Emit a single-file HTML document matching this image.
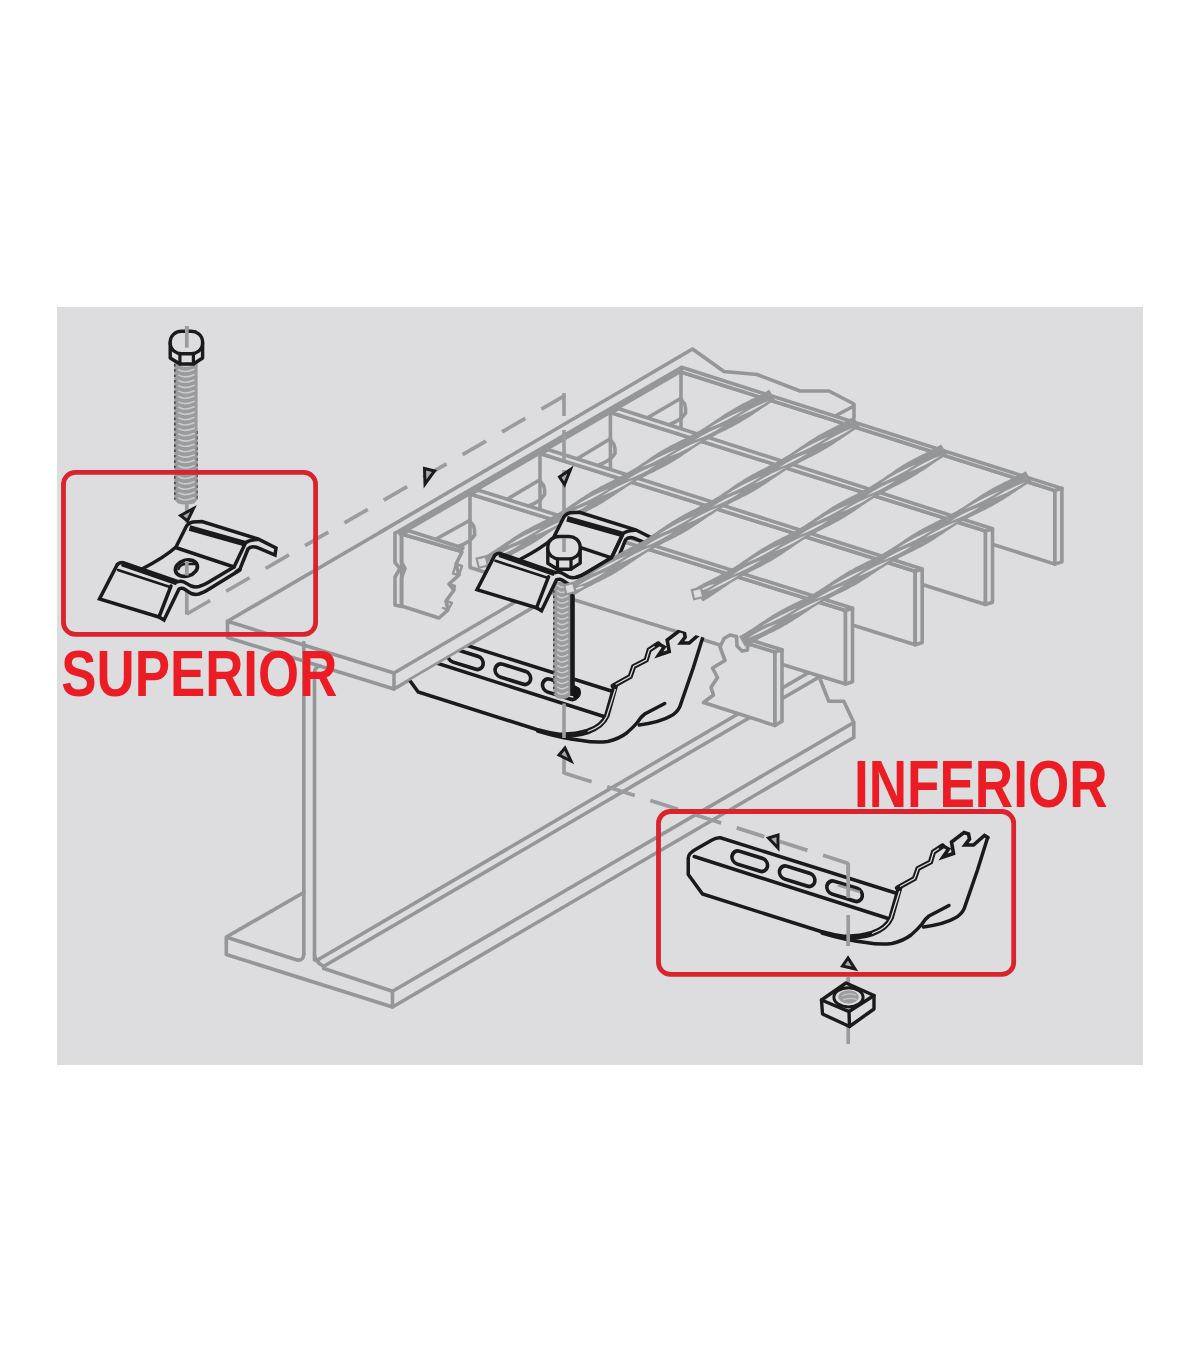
<!DOCTYPE html>
<html lang="es">
<head>
<meta charset="utf-8">
<title>Clip superior e inferior</title>
<style>
html,body{margin:0;padding:0;background:#fff;}
body{width:1200px;height:1372px;overflow:hidden;position:relative;font-family:"Liberation Sans",sans-serif;}
svg{position:absolute;left:0;top:0;display:block;}
.g{fill:none;stroke:#959698;stroke-width:3.6;stroke-linejoin:round;stroke-linecap:round;}
.g2{fill:none;stroke:#9d9ea0;stroke-width:2.2;stroke-linejoin:round;stroke-linecap:round;}
.gl{fill:none;stroke:#a9aaac;stroke-width:1.5;stroke-linejoin:round;stroke-linecap:butt;}
.k{fill:none;stroke:#1a1a1a;stroke-width:3.5;stroke-linejoin:miter;stroke-linecap:round;}
.k3{fill:none;stroke:#141414;stroke-width:3;stroke-linejoin:round;stroke-linecap:round;}
.k4{fill:none;stroke:#1a1a1a;stroke-width:5.6;stroke-linejoin:round;stroke-linecap:butt;}
.kf{fill:#dddde0;stroke:#1a1a1a;stroke-width:3.5;stroke-linejoin:round;stroke-linecap:round;}
.r{fill:none;stroke:#da232d;stroke-width:4.8;}
.t{font-family:"Liberation Sans",sans-serif;font-weight:bold;font-size:65.5px;fill:#ec1c24;}
</style>
</head>
<body>
<svg width="1200" height="1372" viewBox="0 0 1200 1372">
<rect x="0" y="0" width="1200" height="1372" fill="#ffffff"/>
<rect x="57" y="307" width="1086" height="758" fill="#dddde0"/>
<polyline class="g" points="530,593.3 394,673 227.5,621.3 227.5,637.5 394,689 394,673" />
<polyline class="g" points="394,689 546,599.8" />
<polyline class="g" points="227.5,621.3 385,529.5" />
<polyline class="g" points="303.8,642.5 303.8,954.5" />
<path class="g" d="M314.5,960 L314.5,672 Q315,667 320,666" />
<polyline class="g" points="303.8,892.5 226.3,937 226.3,954.5 392.5,1007 392.5,991.3 323.8,968.5" />
<path class="g" d="M229,938 L297,960 Q303.5,961 303.8,954" />
<path class="g" d="M314.5,955 Q315,962 323.8,966.3" />
<polyline class="g" points="317.5,960 814,669.5" />
<polyline class="g" points="323.8,966.3 826,673" />
<polyline class="g" points="392.5,991.3 853.8,722.5 853.8,737.5 392.5,1007" />
<polyline class="g" points="853.8,722.5 843.8,701.3 828.8,701.3 820,678.8" />
<polyline points="380.0,532.4 692.5,349.0 724.0,371.5 757.0,374.5 800.0,391.0 829.0,391.0 854.0,404.0 854.0,418.0" fill="none" stroke="#959698" stroke-width="3.6" stroke-linejoin="round" stroke-linecap="round" />
<polyline points="836.0,415.5 853.0,406.5" fill="none" stroke="#959698" stroke-width="3.6" stroke-linejoin="round" stroke-linecap="round" />
<polygon points="681.0,372.0 1054.9,490.6 1054.9,564.1 681.0,445.5" fill="#dddde0" stroke="#959698" stroke-width="3.6" stroke-linejoin="round" />
<polygon points="681.0,372.0 1054.9,490.6 1061.9,488.4 681.6,367.3" fill="#dddde0" stroke="#959698" stroke-width="3.6" stroke-linejoin="round" />
<polygon points="1054.9,490.6 1061.9,488.4 1061.9,561.9 1054.9,564.1" fill="#dddde0" stroke="#959698" stroke-width="3.6" stroke-linejoin="round" />
<polygon points="610.4,412.5 985.5,531.0 985.5,604.5 610.4,486.0" fill="#dddde0" stroke="#959698" stroke-width="3.6" stroke-linejoin="round" />
<polygon points="610.4,412.5 985.5,531.0 992.5,528.8 618.9,408.7" fill="#dddde0" stroke="#959698" stroke-width="3.6" stroke-linejoin="round" />
<polygon points="985.5,531.0 992.5,528.8 992.5,602.3 985.5,604.5" fill="#dddde0" stroke="#959698" stroke-width="3.6" stroke-linejoin="round" />
<polygon points="540.0,453.5 915.2,571.2 915.2,644.8 540.0,527.0" fill="#dddde0" stroke="#959698" stroke-width="3.6" stroke-linejoin="round" />
<polygon points="540.0,453.5 915.2,571.2 922.2,569.0 548.5,449.7" fill="#dddde0" stroke="#959698" stroke-width="3.6" stroke-linejoin="round" />
<polygon points="915.2,571.2 922.2,569.0 922.2,642.5 915.2,644.8" fill="#dddde0" stroke="#959698" stroke-width="3.6" stroke-linejoin="round" />
<polygon points="470.0,494.0 845.5,610.5 845.5,684.0 470.0,567.5" fill="#dddde0" stroke="#959698" stroke-width="3.6" stroke-linejoin="round" />
<polygon points="470.0,494.0 845.5,610.5 852.5,608.3 478.5,490.2" fill="#dddde0" stroke="#959698" stroke-width="3.6" stroke-linejoin="round" />
<polygon points="845.5,610.5 852.5,608.3 852.5,681.8 845.5,684.0" fill="#dddde0" stroke="#959698" stroke-width="3.6" stroke-linejoin="round" />
<polygon points="401.6,534.0 460.0,551.0 462.0,552.0 456.0,564.0 459.0,575.0 449.0,584.0 454.0,590.0 446.0,601.0 448.0,610.0 439.0,618.0 401.6,606.0" fill="#dddde0" stroke="#959698" stroke-width="3.6" stroke-linejoin="round" />
<polygon points="401.6,534.0 460.0,551.0 463.0,548.0 408.6,530.8" fill="#dddde0" stroke="#959698" stroke-width="3.6" stroke-linejoin="round" />
<polyline points="395.0,533.0 395.0,562.5 400.0,568.5 395.0,577.0 395.0,605.0 401.5,606.5" fill="none" stroke="#959698" stroke-width="3.6" stroke-linejoin="round" stroke-linecap="round" />
<polyline points="401.5,534.0 401.5,562.5 405.0,568.5 401.5,578.0 401.5,606.0" fill="none" stroke="#959698" stroke-width="3.6" stroke-linejoin="round" stroke-linecap="round" />
<polyline points="456.0,564.0 462.0,566.0 459.0,575.0 453.0,573.5 456.0,564.0" fill="none" stroke="#959698" stroke-width="2.4" stroke-linejoin="round" stroke-linecap="round" />
<polyline points="449.0,584.0 455.0,586.0 454.0,590.0" fill="none" stroke="#959698" stroke-width="2.4" stroke-linejoin="round" stroke-linecap="round" />
<polyline points="446.0,601.0 452.0,603.0 448.0,610.0 443.0,608.0" fill="none" stroke="#959698" stroke-width="2.4" stroke-linejoin="round" stroke-linecap="round" />
<polygon points="730.0,635.0 736.5,636.5 737.0,646.0 742.0,651.0 747.5,650.0 748.0,643.5 775.0,652.0 775.0,725.5 703.5,702.5 713.5,695.0 711.0,687.5 717.5,677.5 712.5,668.0 725.0,660.5 720.0,647.0 724.0,638.5" fill="#dddde0" stroke="#959698" stroke-width="3.6" stroke-linejoin="round" />
<polygon points="746.3,643.3 775.0,652.0 782.0,649.8 753.0,640.8" fill="#dddde0" stroke="#959698" stroke-width="3.6" stroke-linejoin="round" />
<polygon points="775.0,652.0 782.0,649.8 782.0,721.3 775.0,725.5" fill="#dddde0" stroke="#959698" stroke-width="3.6" stroke-linejoin="round" />
<polyline points="395.5,533.0 681.3,367.6" fill="none" stroke="#959698" stroke-width="3.6" stroke-linejoin="round" stroke-linecap="round" />
<polyline points="400.0,534.0 681.3,371.0" fill="none" stroke="#959698" stroke-width="3.6" stroke-linejoin="round" stroke-linecap="round" />
<polyline points="647.9,417.5 680.5,398.5" fill="none" stroke="#959698" stroke-width="3.6" stroke-linejoin="round" stroke-linecap="round" />
<path fill="none" stroke="#959698" stroke-width="3.6" stroke-linejoin="round" stroke-linecap="round" d="M680.5,398.5 L684.6,404.0 Q686.0,408.0 685.6,413.0 L681.0,418.5 Q675.0,422.5 669.5,424.5"/>
<polyline points="577.5,458.5 609.9,439.0" fill="none" stroke="#959698" stroke-width="3.6" stroke-linejoin="round" stroke-linecap="round" />
<path fill="none" stroke="#959698" stroke-width="3.6" stroke-linejoin="round" stroke-linecap="round" d="M609.9,439.0 L614.0,444.5 Q615.4,448.5 615.0,453.5 L610.4,459.0 Q604.4,463.0 598.9,465.0"/>
<polyline points="507.5,499.0 539.5,480.0" fill="none" stroke="#959698" stroke-width="3.6" stroke-linejoin="round" stroke-linecap="round" />
<path fill="none" stroke="#959698" stroke-width="3.6" stroke-linejoin="round" stroke-linecap="round" d="M539.5,480.0 L543.6,485.5 Q545.0,489.5 544.6,494.5 L540.0,500.0 Q534.0,504.0 528.5,506.0"/>
<polyline points="436.1,539.0 469.5,520.5" fill="none" stroke="#959698" stroke-width="3.6" stroke-linejoin="round" stroke-linecap="round" />
<path fill="none" stroke="#959698" stroke-width="3.6" stroke-linejoin="round" stroke-linecap="round" d="M469.5,520.5 L473.6,526.0 Q475.0,530.0 474.6,535.0 L470.0,540.5 Q464.0,544.5 458.5,546.5"/>
<polygon points="486.6,568.8 489.1,567.2 491.6,565.6 494.2,564.1 496.8,562.6 499.4,561.2 502.1,559.8 504.7,558.4 507.4,557.0 510.1,555.7 512.7,554.4 515.4,553.0 518.1,551.7 520.8,550.3 523.4,548.9 526.0,547.5 528.6,546.1 531.2,544.6 533.8,543.0 536.3,541.4 538.8,539.8 541.3,538.2 543.8,536.5 546.3,534.8 548.7,533.1 551.2,531.5 553.7,529.8 556.2,528.2 558.7,526.6 561.3,525.0 563.8,523.4 566.4,522.0 569.0,520.5 571.6,519.1 574.3,517.7 577.0,516.3 579.6,515.0 582.3,513.7 585.0,512.4 587.7,511.0 590.3,509.7 593.0,508.3 595.6,506.9 598.2,505.4 600.8,503.9 603.4,502.4 605.9,500.8 608.4,499.2 610.9,497.6 613.4,495.9 615.9,494.2 618.4,492.6 620.8,490.9 623.3,489.2 625.8,487.6 628.3,485.9 630.9,484.4 633.4,482.8 636.0,481.3 638.6,479.8 641.2,478.4 643.9,477.0 646.5,475.7 649.2,474.3 651.9,473.0 654.6,471.7 657.2,470.3 659.9,469.0 662.6,467.6 665.2,466.2 667.8,464.8 670.4,463.3 673.0,461.8 675.5,460.2 678.1,458.6 680.6,457.0 683.0,455.3 685.5,453.6 688.0,452.0 690.5,450.3 693.0,448.6 695.4,447.0 698.0,445.3 700.5,443.7 703.0,442.2 705.6,440.7 708.2,439.2 710.8,437.8 713.5,436.4 716.1,435.0 718.8,433.6 721.5,432.3 724.1,431.0 726.8,429.7 729.5,428.3 732.2,427.0 734.8,425.6 737.4,424.1 740.0,422.7 742.6,421.1 745.1,419.6 747.7,418.0 750.2,416.4 752.7,414.7 755.2,413.1 757.6,411.4 760.1,409.7 762.6,408.0 765.1,406.4 767.6,404.7 770.1,403.1 772.6,401.6 775.2,400.0 769.3,389.8 766.7,391.3 764.1,392.8 761.4,394.2 758.8,395.6 756.1,396.9 753.4,398.2 750.7,399.6 748.1,400.9 745.4,402.2 742.7,403.6 740.1,405.0 737.4,406.4 734.8,407.9 732.3,409.4 729.7,410.9 727.2,412.5 724.7,414.1 722.2,415.7 719.7,417.4 717.2,419.1 714.7,420.8 712.2,422.4 709.8,424.1 707.3,425.8 704.7,427.4 702.2,428.9 699.7,430.5 697.1,432.0 694.5,433.4 691.8,434.8 689.2,436.2 686.5,437.6 683.8,438.9 681.2,440.3 678.5,441.6 675.8,442.9 673.1,444.3 670.5,445.6 667.9,447.1 665.2,448.5 662.7,450.0 660.1,451.5 657.5,453.1 655.0,454.7 652.5,456.3 650.0,458.0 647.6,459.7 645.1,461.4 642.6,463.0 640.1,464.7 637.6,466.4 635.1,468.0 632.6,469.6 630.0,471.1 627.5,472.6 624.9,474.1 622.2,475.5 619.6,476.9 616.9,478.3 614.3,479.6 611.6,480.9 608.9,482.3 606.2,483.6 603.6,484.9 600.9,486.3 598.3,487.7 595.6,489.2 593.0,490.6 590.5,492.1 587.9,493.7 585.4,495.3 582.9,496.9 580.4,498.6 577.9,500.3 575.5,501.9 573.0,503.6 570.5,505.3 568.0,507.0 565.5,508.6 563.0,510.2 560.4,511.7 557.9,513.3 555.3,514.7 552.7,516.2 550.0,517.6 547.4,518.9 544.7,520.3 542.0,521.6 539.3,522.9 536.6,524.3 534.0,525.6 531.3,527.0 528.7,528.4 526.0,529.8 523.4,531.3 520.9,532.8 518.3,534.3 515.8,535.9 513.3,537.5 510.8,539.2 508.3,540.9 505.8,542.5 503.4,544.2 500.9,545.9 498.4,547.6 495.9,549.2 493.4,550.8 490.8,552.4 488.3,553.9 485.7,555.4 483.1,556.8 480.4,558.2" fill="#959698" stroke="none"/><path fill="#dddde0" stroke="none" d="M736.7,417.3 Q753.8,410.9 768.8,400.9 Q751.7,407.3 736.7,417.3 Z M708.3,428.3 Q727.2,420.9 743.9,409.9 Q725.1,417.3 708.3,428.3 Z M694.5,440.3 Q709.9,434.9 723.2,425.9 Q707.8,431.3 694.5,440.3 Z M669.3,456.6 Q686.4,450.3 701.4,440.2 Q684.3,446.6 669.3,456.6 Z M641.0,467.6 Q659.8,460.2 676.5,449.2 Q657.7,456.6 641.0,467.6 Z M627.1,479.6 Q642.5,474.2 655.8,465.2 Q640.4,470.6 627.1,479.6 Z M601.9,496.0 Q619.1,489.6 634.0,479.6 Q616.9,485.9 601.9,496.0 Z M573.6,507.0 Q592.5,499.5 609.2,488.5 Q590.3,495.9 573.6,507.0 Z M559.8,519.0 Q575.2,513.6 588.4,504.6 Q573.0,509.9 559.8,519.0 Z M534.6,535.3 Q551.7,528.9 566.7,518.9 Q549.6,525.3 534.6,535.3 Z M506.3,546.3 Q525.1,538.9 541.8,527.8 Q523.0,535.2 506.3,546.3 Z M492.4,558.3 Q507.8,552.9 521.1,543.9 Q505.7,549.3 492.4,558.3 Z M486.8,563.2 Q494.1,562.5 499.3,558.2 Q492.0,558.9 486.8,563.2 Z "/><rect x="478.0" y="557.1" width="9.4" height="9.4" fill="#dddde0" stroke="#959698" stroke-width="2.2" transform="rotate(-14 483.5 563.5)"/>
<polygon points="574.0,595.2 576.6,593.6 579.1,592.1 581.7,590.6 584.3,589.1 587.0,587.7 589.6,586.3 592.3,584.9 595.0,583.6 597.6,582.2 600.3,580.9 603.0,579.6 605.6,578.2 608.3,576.8 610.9,575.4 613.5,573.9 616.1,572.4 618.6,570.8 621.2,569.2 623.7,567.6 626.2,566.0 628.7,564.3 631.1,562.6 633.6,560.9 636.1,559.2 638.6,557.5 641.0,555.9 643.6,554.3 646.1,552.7 648.6,551.1 651.2,549.6 653.8,548.2 656.5,546.7 659.1,545.3 661.8,544.0 664.4,542.6 667.1,541.3 669.8,539.9 672.5,538.6 675.1,537.2 677.8,535.8 680.4,534.4 683.0,533.0 685.6,531.5 688.2,529.9 690.7,528.3 693.2,526.7 695.7,525.1 698.2,523.4 700.7,521.7 703.1,520.0 705.6,518.3 708.1,516.6 710.6,515.0 713.1,513.4 715.6,511.8 718.2,510.2 720.7,508.7 723.3,507.2 725.9,505.8 728.6,504.4 731.2,503.0 733.9,501.6 736.6,500.3 739.3,499.0 741.9,497.6 744.6,496.3 747.3,494.9 749.9,493.5 752.5,492.0 755.1,490.5 757.7,489.0 760.2,487.4 762.7,485.8 765.2,484.2 767.7,482.5 770.2,480.8 772.7,479.1 775.1,477.4 777.6,475.8 780.1,474.1 782.6,472.5 785.1,470.8 787.7,469.3 790.2,467.8 792.8,466.3 795.4,464.8 798.1,463.4 800.7,462.0 803.4,460.7 806.1,459.3 808.7,458.0 811.4,456.7 814.1,455.3 816.7,453.9 819.4,452.5 822.0,451.1 824.6,449.6 827.2,448.1 829.7,446.5 832.2,444.9 834.7,443.3 837.2,441.6 839.7,439.9 842.2,438.2 844.7,436.6 847.1,434.9 849.6,433.2 852.1,431.6 854.6,429.9 857.2,428.4 859.7,426.8 853.7,416.7 851.2,418.2 848.5,419.6 845.9,421.0 843.3,422.4 840.6,423.8 837.9,425.1 835.2,426.5 832.6,427.8 829.9,429.2 827.2,430.5 824.6,431.9 822.0,433.4 819.4,434.8 816.8,436.3 814.2,437.9 811.7,439.5 809.2,441.1 806.7,442.8 804.2,444.4 801.8,446.1 799.3,447.8 796.8,449.5 794.3,451.2 791.8,452.8 789.3,454.5 786.8,456.0 784.2,457.6 781.7,459.1 779.1,460.6 776.4,462.0 773.8,463.4 771.1,464.7 768.4,466.1 765.8,467.4 763.1,468.8 760.4,470.1 757.8,471.5 755.1,472.9 752.5,474.3 749.9,475.8 747.3,477.3 744.7,478.8 742.2,480.4 739.7,482.0 737.2,483.6 734.7,485.3 732.2,487.0 729.8,488.7 727.3,490.4 724.8,492.1 722.3,493.7 719.8,495.4 717.3,497.0 714.7,498.5 712.2,500.0 709.6,501.5 706.9,502.9 704.3,504.3 701.6,505.7 699.0,507.1 696.3,508.4 693.6,509.7 690.9,511.1 688.3,512.4 685.6,513.8 683.0,515.2 680.4,516.7 677.8,518.2 675.2,519.7 672.7,521.3 670.2,522.9 667.7,524.5 665.2,526.2 662.7,527.9 660.2,529.6 657.8,531.3 655.3,533.0 652.8,534.6 650.3,536.3 647.8,537.9 645.2,539.4 642.7,541.0 640.1,542.4 637.4,543.9 634.8,545.3 632.2,546.7 629.5,548.0 626.8,549.4 624.1,550.7 621.5,552.1 618.8,553.4 616.1,554.8 613.5,556.2 610.9,557.6 608.3,559.1 605.7,560.6 603.2,562.2 600.6,563.8 598.1,565.4 595.6,567.1 593.2,568.8 590.7,570.5 588.2,572.2 585.8,573.8 583.3,575.5 580.8,577.2 578.3,578.8 575.7,580.3 573.2,581.9 570.6,583.4 568.0,584.8" fill="#959698" stroke="none"/><path fill="#dddde0" stroke="none" d="M821.3,444.3 Q838.3,437.8 853.3,427.7 Q836.2,434.2 821.3,444.3 Z M793.0,455.3 Q811.8,447.9 828.4,436.8 Q809.6,444.3 793.0,455.3 Z M779.2,467.4 Q794.5,462.0 807.8,452.9 Q792.4,458.3 779.2,467.4 Z M754.0,483.8 Q771.1,477.4 786.1,467.3 Q769.0,473.8 754.0,483.8 Z M725.8,494.9 Q744.6,487.4 761.2,476.4 Q742.4,483.8 725.8,494.9 Z M712.0,507.0 Q727.3,501.5 740.6,492.5 Q725.2,497.9 712.0,507.0 Z M686.8,523.4 Q703.9,517.0 718.9,506.9 Q701.8,513.3 686.8,523.4 Z M658.5,534.5 Q677.3,527.0 694.0,515.9 Q675.2,523.4 658.5,534.5 Z M644.8,546.6 Q660.1,541.1 673.3,532.1 Q658.0,537.5 644.8,546.6 Z M619.6,563.0 Q636.7,556.5 651.7,546.5 Q634.6,552.9 619.6,563.0 Z M591.3,574.1 Q610.1,566.6 626.8,555.5 Q608.0,563.0 591.3,574.1 Z M577.5,586.1 Q592.9,580.7 606.1,571.6 Q590.8,577.1 577.5,586.1 Z M574.3,589.7 Q580.4,589.7 584.4,586.0 Q578.3,586.0 574.3,589.7 Z "/><rect x="565.5" y="583.6" width="9.4" height="9.4" fill="#dddde0" stroke="#959698" stroke-width="2.2" transform="rotate(-14 571.0 590.0)"/>
<polygon points="702.6,601.6 705.2,600.1 707.7,598.5 710.2,596.9 712.7,595.3 715.2,593.6 717.6,591.9 720.1,590.2 722.5,588.6 725.0,586.9 727.5,585.2 729.9,583.6 732.4,582.0 735.0,580.4 737.5,578.9 740.1,577.4 742.7,575.9 745.3,574.5 747.9,573.1 750.6,571.8 753.2,570.4 755.9,569.1 758.6,567.7 761.2,566.4 763.9,565.0 766.5,563.6 769.1,562.2 771.7,560.7 774.2,559.2 776.8,557.6 779.3,556.0 781.8,554.4 784.2,552.8 786.7,551.1 789.2,549.4 791.6,547.7 794.1,546.0 796.5,544.3 799.0,542.7 801.5,541.1 804.0,539.5 806.6,537.9 809.1,536.4 811.7,535.0 814.3,533.5 817.0,532.1 819.6,530.8 822.3,529.4 824.9,528.1 827.6,526.7 830.2,525.4 832.9,524.0 835.5,522.6 838.1,521.2 840.7,519.8 843.3,518.3 845.8,516.7 848.4,515.1 850.9,513.5 853.3,511.9 855.8,510.2 858.3,508.5 860.7,506.8 863.2,505.1 865.6,503.5 868.1,501.8 870.6,500.2 873.1,498.6 875.6,497.0 878.2,495.5 880.8,494.0 883.4,492.6 886.0,491.2 888.6,489.8 891.3,488.4 893.9,487.1 896.6,485.8 899.3,484.4 901.9,483.1 904.5,481.7 907.2,480.3 909.8,478.8 912.3,477.3 914.9,475.8 917.4,474.2 919.9,472.6 922.4,471.0 924.9,469.4 927.4,467.7 929.8,466.0 932.3,464.3 934.7,462.6 937.2,460.9 939.7,459.3 942.2,457.7 944.7,456.1 947.2,454.6 941.2,444.4 938.6,445.9 936.1,447.4 933.4,448.8 930.8,450.2 928.2,451.5 925.5,452.9 922.8,454.2 920.2,455.6 917.5,456.9 914.9,458.3 912.3,459.7 909.6,461.1 907.1,462.6 904.5,464.1 902.0,465.6 899.4,467.2 896.9,468.8 894.5,470.5 892.0,472.2 889.6,473.9 887.1,475.6 884.6,477.2 882.2,478.9 879.7,480.6 877.2,482.2 874.7,483.8 872.2,485.3 869.6,486.9 867.0,488.3 864.4,489.8 861.8,491.2 859.1,492.5 856.5,493.9 853.8,495.2 851.2,496.6 848.5,497.9 845.9,499.3 843.2,500.7 840.6,502.1 838.0,503.5 835.4,505.0 832.9,506.5 830.4,508.1 827.9,509.7 825.4,511.4 822.9,513.0 820.5,514.7 818.0,516.4 815.6,518.1 813.1,519.8 810.6,521.4 808.1,523.1 805.6,524.7 803.1,526.3 800.6,527.8 798.0,529.3 795.4,530.7 792.8,532.1 790.1,533.5 787.5,534.9 784.8,536.2 782.1,537.5 779.5,538.9 776.8,540.2 774.2,541.6 771.6,543.0 769.0,544.5 766.4,545.9 763.8,547.5 761.3,549.0 758.8,550.6 756.3,552.2 753.8,553.9 751.4,555.6 748.9,557.3 746.5,559.0 744.0,560.6 741.5,562.3 739.1,564.0 736.6,565.6 734.0,567.2 731.5,568.7 728.9,570.2 726.3,571.7 723.7,573.1 721.1,574.5 718.5,575.8 715.8,577.2 713.1,578.5 710.5,579.9 707.8,581.2 705.2,582.6 702.5,584.0 699.9,585.4 697.3,586.9 694.8,588.4" fill="#959698" stroke="none"/><path fill="#dddde0" stroke="none" d="M908.8,472.1 Q925.9,465.6 940.8,455.5 Q923.7,462.0 908.8,472.1 Z M880.6,483.3 Q899.3,475.7 916.0,464.6 Q897.2,472.1 880.6,483.3 Z M866.8,495.4 Q882.1,489.9 895.3,480.8 Q880.0,486.3 866.8,495.4 Z M841.7,511.9 Q858.8,505.4 873.7,495.2 Q856.6,501.8 841.7,511.9 Z M813.5,523.0 Q832.2,515.5 848.9,504.4 Q830.1,511.9 813.5,523.0 Z M799.7,535.1 Q815.0,529.7 828.2,520.6 Q812.9,526.0 799.7,535.1 Z M774.6,551.6 Q791.7,545.1 806.6,535.0 Q789.5,541.5 774.6,551.6 Z M746.3,562.8 Q765.1,555.3 781.8,544.1 Q763.0,551.7 746.3,562.8 Z M732.6,574.9 Q747.9,569.4 761.1,560.3 Q745.8,565.8 732.6,574.9 Z M707.5,591.4 Q724.6,584.9 739.5,574.8 Q722.4,581.3 707.5,591.4 Z M699.5,590.5 Q708.2,589.0 714.7,583.9 Q706.0,585.4 699.5,590.5 Z "/><rect x="693.2" y="588.6" width="9.4" height="9.4" fill="#dddde0" stroke="#959698" stroke-width="2.2" transform="rotate(-14 698.7 595.0)"/>
<polygon points="745.0,646.7 747.5,645.1 750.1,643.6 752.7,642.2 755.3,640.8 758.0,639.4 760.6,638.0 763.3,636.7 766.0,635.4 768.7,634.1 771.4,632.8 774.0,631.4 776.7,630.1 779.4,628.7 782.0,627.3 784.6,625.8 787.2,624.4 789.7,622.8 792.3,621.3 794.8,619.6 797.3,618.0 799.8,616.4 802.3,614.7 804.7,613.0 807.2,611.4 809.7,609.7 812.2,608.1 814.7,606.5 817.3,605.0 819.9,603.5 822.4,602.0 825.1,600.5 827.7,599.2 830.4,597.8 833.0,596.5 835.7,595.1 838.4,593.8 841.1,592.5 843.8,591.2 846.4,589.9 849.1,588.5 851.7,587.1 854.3,585.7 856.9,584.2 859.5,582.7 862.0,581.1 864.5,579.5 867.1,577.9 869.5,576.2 872.0,574.6 874.5,572.9 877.0,571.2 879.5,569.6 882.0,568.0 884.5,566.4 887.0,564.8 889.6,563.3 892.2,561.8 894.8,560.3 897.4,558.9 900.1,557.6 902.7,556.2 905.4,554.9 908.1,553.6 910.8,552.3 913.5,551.0 916.1,549.6 918.8,548.3 921.4,546.9 924.1,545.5 926.7,544.0 929.2,542.5 931.8,540.9 934.3,539.4 936.8,537.7 939.3,536.1 941.8,534.4 944.3,532.8 946.8,531.1 949.3,529.4 951.7,527.8 954.3,526.2 956.8,524.6 959.4,523.1 961.9,521.6 964.5,520.1 967.2,518.7 969.8,517.3 972.5,516.0 975.1,514.7 977.8,513.4 980.5,512.0 983.2,510.7 985.9,509.4 988.5,508.1 991.2,506.7 993.8,505.3 996.4,503.8 999.0,502.3 1001.5,500.8 1004.1,499.2 1006.6,497.6 1009.1,496.0 1011.6,494.3 1014.1,492.6 1016.5,491.0 1019.0,489.3 1021.5,487.7 1024.0,486.1 1026.6,484.5 1029.1,482.9 1031.7,481.4 1025.8,471.2 1023.2,472.7 1020.6,474.1 1017.9,475.5 1015.3,476.8 1012.6,478.2 1009.9,479.5 1007.2,480.8 1004.5,482.1 1001.9,483.4 999.2,484.8 996.5,486.1 993.9,487.5 991.3,489.0 988.7,490.5 986.2,492.0 983.6,493.6 981.1,495.1 978.6,496.8 976.1,498.4 973.6,500.1 971.1,501.8 968.7,503.4 966.2,505.1 963.7,506.7 961.1,508.3 958.6,509.8 956.0,511.4 953.4,512.8 950.8,514.3 948.2,515.7 945.6,517.1 942.9,518.4 940.2,519.7 937.5,521.0 934.8,522.3 932.2,523.7 929.5,525.0 926.8,526.4 924.2,527.7 921.6,529.2 919.0,530.6 916.4,532.2 913.9,533.7 911.3,535.3 908.8,536.9 906.3,538.6 903.8,540.2 901.4,541.9 898.9,543.5 896.4,545.2 893.9,546.8 891.4,548.4 888.8,550.0 886.3,551.5 883.7,553.0 881.1,554.5 878.5,555.9 875.8,557.3 873.2,558.6 870.5,560.0 867.8,561.3 865.1,562.6 862.4,563.9 859.8,565.2 857.1,566.6 854.5,568.0 851.8,569.4 849.2,570.8 846.7,572.3 844.1,573.9 841.6,575.4 839.1,577.1 836.6,578.7 834.1,580.3 831.6,582.0 829.1,583.7 826.6,585.3 824.1,587.0 821.6,588.6 819.1,590.2 816.5,591.7 814.0,593.2 811.4,594.7 808.7,596.1 806.1,597.5 803.4,598.9 800.8,600.2 798.1,601.5 795.4,602.8 792.7,604.1 790.0,605.5 787.4,606.8 784.7,608.2 782.1,609.6 779.5,611.0 776.9,612.5 774.3,614.0 771.8,615.6 769.3,617.2 766.8,618.8 764.3,620.5 761.8,622.1 759.3,623.8 756.8,625.5 754.4,627.1 751.9,628.7 749.3,630.3 746.8,631.9 744.2,633.4 741.6,634.9 739.0,636.3" fill="#959698" stroke="none"/><path fill="#dddde0" stroke="none" d="M993.0,498.5 Q1010.2,492.2 1025.2,482.2 Q1008.1,488.5 993.0,498.5 Z M964.6,509.3 Q983.5,502.0 1000.3,491.1 Q981.4,498.4 964.6,509.3 Z M950.7,521.2 Q966.2,515.9 979.5,507.0 Q964.1,512.3 950.7,521.2 Z M925.4,537.4 Q942.6,531.1 957.6,521.2 Q940.5,527.5 925.4,537.4 Z M897.1,548.2 Q915.9,540.9 932.7,530.0 Q913.8,537.3 897.1,548.2 Z M883.2,560.2 Q898.6,554.9 911.9,545.9 Q896.5,551.2 883.2,560.2 Z M857.9,576.4 Q875.0,570.1 890.1,560.1 Q872.9,566.4 857.9,576.4 Z M829.5,587.2 Q848.4,579.9 865.1,568.9 Q846.3,576.2 829.5,587.2 Z M815.6,599.1 Q831.0,593.8 844.3,584.9 Q828.9,590.2 815.6,599.1 Z M790.3,615.3 Q807.4,609.0 822.5,599.1 Q805.3,605.4 790.3,615.3 Z M761.9,626.1 Q780.8,618.8 797.5,607.9 Q778.7,615.2 761.9,626.1 Z M748.0,638.0 Q763.4,632.7 776.7,623.8 Q761.3,629.1 748.0,638.0 Z "/>
<path fill="none" stroke="#9b9c9e" stroke-width="3.7" d="M186.8,326 L186.8,347 M186.8,546.5 L186.8,614.5"/>
<path fill="none" stroke="#9b9c9e" stroke-width="3.7" stroke-dasharray="27 18.5" d="M186.8,614 L565,395.5"/>
<path fill="none" stroke="#9b9c9e" stroke-width="3.7" d="M564,393 L564,416 M564,430 L564,460 M564,470 L564,552 M564,568 L564,582"/>
<path fill="none" stroke="#9b9c9e" stroke-width="3.7" d="M564,700 L564,736 M564,750 L564,774"/>
<path fill="none" stroke="#9b9c9e" stroke-width="3.7" stroke-dasharray="29 16.3" d="M564,773 L848.5,863.4"/>
<path fill="none" stroke="#9b9c9e" stroke-width="3.7" d="M848.2,863 L848.2,897 M848.2,915 L848.2,946 M848.2,977 L848.2,984 M848.2,1027 L848.2,1044"/>
<clipPath id="cpInf"><polygon points="394,690 560,592.7 562,594.2 760,654.8 760,800 394,800"/></clipPath>
<g clip-path="url(#cpInf)"><g transform="translate(-284.3,-202)" ><path fill="#dddde0" stroke="none" d="M720.5,837.75 L695,849.75 L688.25,858 L688.25,874.5 L702.5,894 L821,931.5 Q835,936.5 850,939.75 Q870,945 884.5,944.25 Q900,942.5 910,936 L928,916.5 Q940,925.5 955,918 Q962,914 964,909 L987.5,838 L964,832.5 L943,845 L931,852 L917,868 L897,887.5 Z"/><path class="k" d="M896.5,893.25 L720.5,837.75 Q716,837.5 712,840 L695,849.75 Q688.5,853.5 688.25,858 L688.25,874.5 L702.5,894 L821,931.5 Q835,935.5 848,937 "/><path class="k" d="M694.25,856.5 L889,918.75"/><path class="k" style="stroke-width:5.6" d="M899.5,888 L891,918 Q886.5,928.5 872,933.5 Q860,937.3 846,937.2"/><path fill="none" stroke="#dddde0" stroke-width="1.3" d="M899.7,891 L891,918.5 Q886.5,928.5 872,933.5"/><path class="k" style="stroke-width:5.2" stroke-linejoin="miter" d="M897.5,888 L914.5,878.5 L918,868.5 L930.5,862 L933.5,852 L942.5,846"/><path fill="none" stroke="#dddde0" stroke-width="1.2" stroke-linejoin="miter" d="M900,886.6 L914.5,878.5 L918,868.5 L930.5,862 L933.5,852 L941,847"/><path class="k" style="stroke-width:3.6" stroke-linejoin="miter" d="M940,847 L942.5,845.5 L948.5,849 L943,857 L953.5,853.5 L951.5,842 L964,832.5 L968.5,834 L969.5,839 L965,845 L973.5,845 L984.5,835.5 L988,837.5"/><path class="k" d="M987.5,838 L977.5,870 L964,909 Q961,915 955,918 Q945,924 923.5,927"/><path class="k" d="M822,933 Q845,940 866,942.5 Q880,945 892,943.5 Q903,941 911,935 Q918,929 922,924 Q925,919 929,916 L949,905.5"/><rect class="k" style="stroke-width:3.7" x="-18.5" y="-6.5" width="37" height="13" rx="6.5" ry="6.5" transform="matrix(0.954,0.30,-0.2,0.98,749.75,861.2)"/><rect class="k" style="stroke-width:3.7" x="-18.5" y="-6.5" width="37" height="13" rx="6.5" ry="6.5" transform="matrix(0.954,0.30,-0.2,0.98,797.15,876.2)"/><rect class="k" style="stroke-width:3.7" x="-18.5" y="-6.5" width="37" height="13" rx="6.5" ry="6.5" transform="matrix(0.954,0.30,-0.2,0.98,844.55,891.2)"/></g></g>
<path fill="none" stroke="#9b9c9e" stroke-width="3.7" d="M564,703.5 L564,738"/>
<path fill="#9a9b9d" stroke="none" d="M553.3,582 L571.3,582 L571.3,694 L567.8,698 Q562.3,699.8 556.8,698 L553.3,694 Z"/><path fill="none" stroke="#c9cacc" stroke-width="1.6" stroke-linecap="round" d="M557.8,585.4 Q561.3,589.2 567.8,585 M557.8,590.75 Q561.3,594.55 567.8,590.35 M557.8,596.1 Q561.3,599.9 567.8,595.7 M557.8,601.45 Q561.3,605.25 567.8,601.05 M557.8,606.8 Q561.3,610.6 567.8,606.4 M557.8,612.15 Q561.3,615.95 567.8,611.75 M557.8,617.5 Q561.3,621.3 567.8,617.1 M557.8,622.85 Q561.3,626.65 567.8,622.45 M557.8,628.2 Q561.3,632 567.8,627.8 M557.8,633.55 Q561.3,637.35 567.8,633.15 M557.8,638.9 Q561.3,642.7 567.8,638.5 M557.8,644.25 Q561.3,648.05 567.8,643.85 M557.8,649.6 Q561.3,653.4 567.8,649.2 M557.8,654.95 Q561.3,658.75 567.8,654.55 M557.8,660.3 Q561.3,664.1 567.8,659.9 M557.8,665.65 Q561.3,669.45 567.8,665.25 M557.8,671 Q561.3,674.8 567.8,670.6 M557.8,676.35 Q561.3,680.15 567.8,675.95 M557.8,681.7 Q561.3,685.5 567.8,681.3 M557.8,687.05 Q561.3,690.85 567.8,686.65 M557.8,692.4 Q561.3,696.2 567.8,692 "/><path fill="none" stroke="#3c3c3e" stroke-width="1.5" stroke-dasharray="2.4 2.95" d="M553.8,585 L553.8,694"/><path fill="none" stroke="#1a1a1a" stroke-width="4.6" d="M572.5,591 L572.5,696"/>
<ellipse fill="#141414" cx="576.5" cy="692.5" rx="4.5" ry="6"/>
<g transform="translate(377.5,-9.2)" ><path fill="#dddde0" stroke="none" d="M122,563 L116.5,566 L99.5,599 L159,617 L164,620 L179,589 Q182,587.5 185,589.5 L191,593.5 Q195,595 199,594 Q205,592 210,588.5 L240,570 L248,549 Q251,545.5 257,547.5 L275,555 L276,548 L258,539 L202,521.5 L193,522 Q188,523 186,527 L176,547 Q165,557 142,569 Z"/><path class="k" d="M122,562.5 Q117.5,563 116.5,566 L99.5,599 L159,617 L171,586"/><path class="k" d="M159,617 L164,620 L179,589 Q182,587.5 185,589.5 L191,593.5 Q195,595 199,594 Q205,592 210,588.5 L240,570"/><path class="k4" d="M122,563.5 L177,582.5"/><path class="k" style="stroke-width:2.6" d="M118,570 L170,587"/><path class="k" d="M177,582 Q180.5,580.5 184,582 L191,586 Q195,587.5 199,586.5 Q204,585 208,582.5 L234,567"/><path class="k" d="M142,569 Q165,557 176,547 L186,527 Q188,523 193,522 L202,521.5 L258,539 L276,548 L275,555 L257,547.5 Q251,545.5 248,549 L240,569 L236,572"/><path class="k" d="M177,548 L234,567"/><path class="k4" d="M189.5,528 L244.5,543.5"/><path class="k" d="M245,544 L234,567"/><path class="k" d="M245,543 Q250,539.5 258,539.5"/></g>
<path class="kf" style="stroke-width:3.4" d="M547.8,547.7 L547.8,563.2 L557.5,569.2 L571,569.2 L580.2,563.2 L580.2,547.7 Z"/><path class="k" style="stroke-width:3.2" d="M557.5,559.7 L557.5,569.2 M571,559.7 L571,569.2"/><path class="kf" style="stroke-width:3.4" d="M547.8,547.7 C547.8,539.86 553.956,536.5 559.14,536.5 L568.86,536.5 C574.044,536.5 580.2,539.86 580.2,547.7 C580.2,555.54 574.044,558.9 568.86,558.9 L559.14,558.9 C553.956,558.9 547.8,555.54 547.8,547.7 Z"/>
<path fill="none" stroke="#9b9c9e" stroke-width="3.7" d="M564,538 L564,552"/>
<clipPath id="cpRod"><polygon points="560,600 560,575 700,480 720,520 600,610"/></clipPath>
<g clip-path="url(#cpRod)"><polygon points="574.0,595.2 576.6,593.6 579.1,592.1 581.7,590.6 584.3,589.1 587.0,587.7 589.6,586.3 592.3,584.9 595.0,583.6 597.6,582.2 600.3,580.9 603.0,579.6 605.6,578.2 608.3,576.8 610.9,575.4 613.5,573.9 616.1,572.4 618.6,570.8 621.2,569.2 623.7,567.6 626.2,566.0 628.7,564.3 631.1,562.6 633.6,560.9 636.1,559.2 638.6,557.5 641.0,555.9 643.6,554.3 646.1,552.7 648.6,551.1 651.2,549.6 653.8,548.2 656.5,546.7 659.1,545.3 661.8,544.0 664.4,542.6 667.1,541.3 669.8,539.9 672.5,538.6 675.1,537.2 677.8,535.8 680.4,534.4 683.0,533.0 685.6,531.5 688.2,529.9 690.7,528.3 693.2,526.7 695.7,525.1 698.2,523.4 700.7,521.7 703.1,520.0 705.6,518.3 708.1,516.6 710.6,515.0 713.1,513.4 715.6,511.8 718.2,510.2 720.7,508.7 723.3,507.2 725.9,505.8 728.6,504.4 731.2,503.0 733.9,501.6 736.6,500.3 739.3,499.0 741.9,497.6 744.6,496.3 747.3,494.9 749.9,493.5 752.5,492.0 755.1,490.5 757.7,489.0 760.2,487.4 762.7,485.8 765.2,484.2 767.7,482.5 770.2,480.8 772.7,479.1 775.1,477.4 777.6,475.8 780.1,474.1 782.6,472.5 785.1,470.8 787.7,469.3 790.2,467.8 792.8,466.3 795.4,464.8 798.1,463.4 800.7,462.0 803.4,460.7 806.1,459.3 808.7,458.0 811.4,456.7 814.1,455.3 816.7,453.9 819.4,452.5 822.0,451.1 824.6,449.6 827.2,448.1 829.7,446.5 832.2,444.9 834.7,443.3 837.2,441.6 839.7,439.9 842.2,438.2 844.7,436.6 847.1,434.9 849.6,433.2 852.1,431.6 854.6,429.9 857.2,428.4 859.7,426.8 853.7,416.7 851.2,418.2 848.5,419.6 845.9,421.0 843.3,422.4 840.6,423.8 837.9,425.1 835.2,426.5 832.6,427.8 829.9,429.2 827.2,430.5 824.6,431.9 822.0,433.4 819.4,434.8 816.8,436.3 814.2,437.9 811.7,439.5 809.2,441.1 806.7,442.8 804.2,444.4 801.8,446.1 799.3,447.8 796.8,449.5 794.3,451.2 791.8,452.8 789.3,454.5 786.8,456.0 784.2,457.6 781.7,459.1 779.1,460.6 776.4,462.0 773.8,463.4 771.1,464.7 768.4,466.1 765.8,467.4 763.1,468.8 760.4,470.1 757.8,471.5 755.1,472.9 752.5,474.3 749.9,475.8 747.3,477.3 744.7,478.8 742.2,480.4 739.7,482.0 737.2,483.6 734.7,485.3 732.2,487.0 729.8,488.7 727.3,490.4 724.8,492.1 722.3,493.7 719.8,495.4 717.3,497.0 714.7,498.5 712.2,500.0 709.6,501.5 706.9,502.9 704.3,504.3 701.6,505.7 699.0,507.1 696.3,508.4 693.6,509.7 690.9,511.1 688.3,512.4 685.6,513.8 683.0,515.2 680.4,516.7 677.8,518.2 675.2,519.7 672.7,521.3 670.2,522.9 667.7,524.5 665.2,526.2 662.7,527.9 660.2,529.6 657.8,531.3 655.3,533.0 652.8,534.6 650.3,536.3 647.8,537.9 645.2,539.4 642.7,541.0 640.1,542.4 637.4,543.9 634.8,545.3 632.2,546.7 629.5,548.0 626.8,549.4 624.1,550.7 621.5,552.1 618.8,553.4 616.1,554.8 613.5,556.2 610.9,557.6 608.3,559.1 605.7,560.6 603.2,562.2 600.6,563.8 598.1,565.4 595.6,567.1 593.2,568.8 590.7,570.5 588.2,572.2 585.8,573.8 583.3,575.5 580.8,577.2 578.3,578.8 575.7,580.3 573.2,581.9 570.6,583.4 568.0,584.8" fill="#959698" stroke="none"/><path fill="#dddde0" stroke="none" d="M821.3,444.3 Q838.3,437.8 853.3,427.7 Q836.2,434.2 821.3,444.3 Z M793.0,455.3 Q811.8,447.9 828.4,436.8 Q809.6,444.3 793.0,455.3 Z M779.2,467.4 Q794.5,462.0 807.8,452.9 Q792.4,458.3 779.2,467.4 Z M754.0,483.8 Q771.1,477.4 786.1,467.3 Q769.0,473.8 754.0,483.8 Z M725.8,494.9 Q744.6,487.4 761.2,476.4 Q742.4,483.8 725.8,494.9 Z M712.0,507.0 Q727.3,501.5 740.6,492.5 Q725.2,497.9 712.0,507.0 Z M686.8,523.4 Q703.9,517.0 718.9,506.9 Q701.8,513.3 686.8,523.4 Z M658.5,534.5 Q677.3,527.0 694.0,515.9 Q675.2,523.4 658.5,534.5 Z M644.8,546.6 Q660.1,541.1 673.3,532.1 Q658.0,537.5 644.8,546.6 Z M619.6,563.0 Q636.7,556.5 651.7,546.5 Q634.6,552.9 619.6,563.0 Z M591.3,574.1 Q610.1,566.6 626.8,555.5 Q608.0,563.0 591.3,574.1 Z M577.5,586.1 Q592.9,580.7 606.1,571.6 Q590.8,577.1 577.5,586.1 Z M574.3,589.7 Q580.4,589.7 584.4,586.0 Q578.3,586.0 574.3,589.7 Z "/><rect x="565.5" y="583.6" width="9.4" height="9.4" fill="#dddde0" stroke="#959698" stroke-width="2.2" transform="rotate(-14 571.0 590.0)"/></g>
<g transform="translate(377.5,-9.2)" ><path class="k" d="M199,586.5 Q204,585 208,582.5 L234,567 L245,544"/></g>
<path fill="none" stroke="#9b9c9e" stroke-width="3.7" d="M186.8,500 L186.8,523"/>
<path fill="#9a9b9d" stroke="none" d="M174.3,361 L197.6,361 L197.6,499.5 L194.1,503.5 Q185.95,505.3 177.8,503.5 L174.3,499.5 Z"/><path fill="none" stroke="#c9cacc" stroke-width="1.6" stroke-linecap="round" d="M178.8,364.4 Q184.95,368.2 194.1,364 M178.8,369.75 Q184.95,373.55 194.1,369.35 M178.8,375.1 Q184.95,378.9 194.1,374.7 M178.8,380.45 Q184.95,384.25 194.1,380.05 M178.8,385.8 Q184.95,389.6 194.1,385.4 M178.8,391.15 Q184.95,394.95 194.1,390.75 M178.8,396.5 Q184.95,400.3 194.1,396.1 M178.8,401.85 Q184.95,405.65 194.1,401.45 M178.8,407.2 Q184.95,411 194.1,406.8 M178.8,412.55 Q184.95,416.35 194.1,412.15 M178.8,417.9 Q184.95,421.7 194.1,417.5 M178.8,423.25 Q184.95,427.05 194.1,422.85 M178.8,428.6 Q184.95,432.4 194.1,428.2 M178.8,433.95 Q184.95,437.75 194.1,433.55 M178.8,439.3 Q184.95,443.1 194.1,438.9 M178.8,444.65 Q184.95,448.45 194.1,444.25 M178.8,450 Q184.95,453.8 194.1,449.6 M178.8,455.35 Q184.95,459.15 194.1,454.95 M178.8,460.7 Q184.95,464.5 194.1,460.3 M178.8,466.05 Q184.95,469.85 194.1,465.65 M178.8,471.4 Q184.95,475.2 194.1,471 M178.8,476.75 Q184.95,480.55 194.1,476.35 M178.8,482.1 Q184.95,485.9 194.1,481.7 M178.8,487.45 Q184.95,491.25 194.1,487.05 M178.8,492.8 Q184.95,496.6 194.1,492.4 M178.8,498.15 Q184.95,501.95 194.1,497.75 "/><path fill="none" stroke="#3c3c3e" stroke-width="1.5" stroke-dasharray="2.4 2.95" d="M174.8,364 L174.8,499.5"/><path fill="none" stroke="#4a4a4c" stroke-width="1.1" stroke-dasharray="3 2.4" d="M197.2,431 L197.2,499.5"/>
<path class="kf" style="stroke-width:3.4" d="M170.2,342.5 L170.2,358 L179.9,364 L193.4,364 L202.6,358 L202.6,342.5 Z"/><path class="k" style="stroke-width:3.2" d="M179.9,354.5 L179.9,364 M193.4,354.5 L193.4,364"/><path class="kf" style="stroke-width:3.4" d="M170.2,342.5 C170.2,334.66 176.356,331.3 181.54,331.3 L191.26,331.3 C196.444,331.3 202.6,334.66 202.6,342.5 C202.6,350.34 196.444,353.7 191.26,353.7 L181.54,353.7 C176.356,353.7 170.2,350.34 170.2,342.5 Z"/>
<path fill="none" stroke="#9b9c9e" stroke-width="3.7" d="M186.8,326 L186.8,347.7"/>
<path fill="#dddde0" stroke="none" d="M122,563 L116.5,566 L99.5,599 L159,617 L164,620 L179,589 Q182,587.5 185,589.5 L191,593.5 Q195,595 199,594 Q205,592 210,588.5 L240,570 L248,549 Q251,545.5 257,547.5 L275,555 L276,548 L258,539 L202,521.5 L193,522 Q188,523 186,527 L176,547 Q165,557 142,569 Z"/><path class="k" d="M122,562.5 Q117.5,563 116.5,566 L99.5,599 L159,617 L171,586"/><path class="k" d="M159,617 L164,620 L179,589 Q182,587.5 185,589.5 L191,593.5 Q195,595 199,594 Q205,592 210,588.5 L240,570"/><path class="k4" d="M122,563.5 L177,582.5"/><path class="k" style="stroke-width:2.6" d="M118,570 L170,587"/><path class="k" d="M177,582 Q180.5,580.5 184,582 L191,586 Q195,587.5 199,586.5 Q204,585 208,582.5 L234,567"/><path class="k" d="M142,569 Q165,557 176,547 L186,527 Q188,523 193,522 L202,521.5 L258,539 L276,548 L275,555 L257,547.5 Q251,545.5 248,549 L240,569 L236,572"/><path class="k" d="M177,548 L234,567"/><path class="k4" d="M189.5,528 L244.5,543.5"/><path class="k" d="M245,544 L234,567"/><path class="k" d="M245,543 Q250,539.5 258,539.5"/>
<ellipse class="k" style="stroke-width:3.7" cx="186.4" cy="568.1" rx="11.2" ry="8" transform="rotate(-16 186.4 568.1)"/><path class="k" style="stroke-width:2.4" d="M178.5,569 Q180,564.5 185,564 L195,564"/>
<path fill="none" stroke="#9b9c9e" stroke-width="3.7" d="M186.8,561 L186.8,575.5"/>
<path fill="#dddde0" stroke="none" d="M720.5,837.75 L695,849.75 L688.25,858 L688.25,874.5 L702.5,894 L821,931.5 Q835,936.5 850,939.75 Q870,945 884.5,944.25 Q900,942.5 910,936 L928,916.5 Q940,925.5 955,918 Q962,914 964,909 L987.5,838 L964,832.5 L943,845 L931,852 L917,868 L897,887.5 Z"/><path class="k" d="M896.5,893.25 L720.5,837.75 Q716,837.5 712,840 L695,849.75 Q688.5,853.5 688.25,858 L688.25,874.5 L702.5,894 L821,931.5 Q835,935.5 848,937 "/><path class="k" d="M694.25,856.5 L889,918.75"/><path class="k" style="stroke-width:5.6" d="M899.5,888 L891,918 Q886.5,928.5 872,933.5 Q860,937.3 846,937.2"/><path fill="none" stroke="#dddde0" stroke-width="1.3" d="M899.7,891 L891,918.5 Q886.5,928.5 872,933.5"/><path class="k" style="stroke-width:5.2" stroke-linejoin="miter" d="M897.5,888 L914.5,878.5 L918,868.5 L930.5,862 L933.5,852 L942.5,846"/><path fill="none" stroke="#dddde0" stroke-width="1.2" stroke-linejoin="miter" d="M900,886.6 L914.5,878.5 L918,868.5 L930.5,862 L933.5,852 L941,847"/><path class="k" style="stroke-width:3.6" stroke-linejoin="miter" d="M940,847 L942.5,845.5 L948.5,849 L943,857 L953.5,853.5 L951.5,842 L964,832.5 L968.5,834 L969.5,839 L965,845 L973.5,845 L984.5,835.5 L988,837.5"/><path class="k" d="M987.5,838 L977.5,870 L964,909 Q961,915 955,918 Q945,924 923.5,927"/><path class="k" d="M822,933 Q845,940 866,942.5 Q880,945 892,943.5 Q903,941 911,935 Q918,929 922,924 Q925,919 929,916 L949,905.5"/><rect class="k" style="stroke-width:3.7" x="-18.5" y="-6.5" width="37" height="13" rx="6.5" ry="6.5" transform="matrix(0.954,0.30,-0.2,0.98,749.75,861.2)"/><rect class="k" style="stroke-width:3.7" x="-18.5" y="-6.5" width="37" height="13" rx="6.5" ry="6.5" transform="matrix(0.954,0.30,-0.2,0.98,797.15,876.2)"/><rect class="k" style="stroke-width:3.7" x="-18.5" y="-6.5" width="37" height="13" rx="6.5" ry="6.5" transform="matrix(0.954,0.30,-0.2,0.98,844.55,891.2)"/>
<path fill="none" stroke="#9b9c9e" stroke-width="3.7" d="M848.2,866 L848.2,898 M848.2,915 L848.2,946"/>
<path fill="none" stroke="#9d9d9f" stroke-width="2.6" d="M838,885.3 L860,892"/>
<path class="kf" style="stroke-width:3.4" d="M846,983 L874,995.5 L874,1009 L849.5,1026.5 L822.5,1014 L821.5,1000 Z"/><path class="k" style="stroke-width:3.4" d="M821.5,1000 L849,1011.5 L874,995.5 M849,1011.5 L849.5,1026.5"/><ellipse fill="#dddde0" stroke="#1a1a1a" stroke-width="3" cx="848.5" cy="997.3" rx="14.6" ry="9.6"/><ellipse fill="#9c9d9f" stroke="none" cx="848.5" cy="996.8" rx="10.4" ry="6.6"/><path fill="none" stroke="#c6c7c9" stroke-width="1.3" d="M842,996 Q848,992.5 856,995 M843,1000 Q849,997 857,999.5"/>
<path fill="#a9aaac" stroke="#1a1a1a" stroke-width="3" stroke-linejoin="miter" d="M180.5,515.5 L193.5,508.5 L187.5,521 Z"/>
<path fill="#a9aaac" stroke="#1a1a1a" stroke-width="3" stroke-linejoin="miter" d="M768.5,838 L778,835 L778,848 Z"/>
<path fill="#a9aaac" stroke="#1a1a1a" stroke-width="3" stroke-linejoin="miter" d="M848,958 L842.5,966 L855,969 Z"/>
<path fill="#a9aaac" stroke="#1a1a1a" stroke-width="3" stroke-linejoin="miter" d="M424.5,468.5 L434.5,471 L425,484 Z"/>
<path fill="#a9aaac" stroke="#1a1a1a" stroke-width="3" stroke-linejoin="miter" d="M570.5,469.5 L559.5,477 L564.5,484.5 Z"/>
<path fill="#a9aaac" stroke="#1a1a1a" stroke-width="3" stroke-linejoin="miter" d="M565,748 L559,755 L571,761 Z"/>
<rect class="r" x="63.5" y="472.4" width="252.1" height="162" rx="12" ry="12"/>
<rect class="r" x="658.5" y="811.5" width="355.2" height="162.9" rx="12" ry="12"/>
<text class="t" x="61.3" y="695.8" textLength="276" lengthAdjust="spacingAndGlyphs">SUPERIOR</text>
<text class="t" x="854" y="807" textLength="253.5" lengthAdjust="spacingAndGlyphs" style="font-size:67px">INFERIOR</text>
</svg>
</body>
</html>
